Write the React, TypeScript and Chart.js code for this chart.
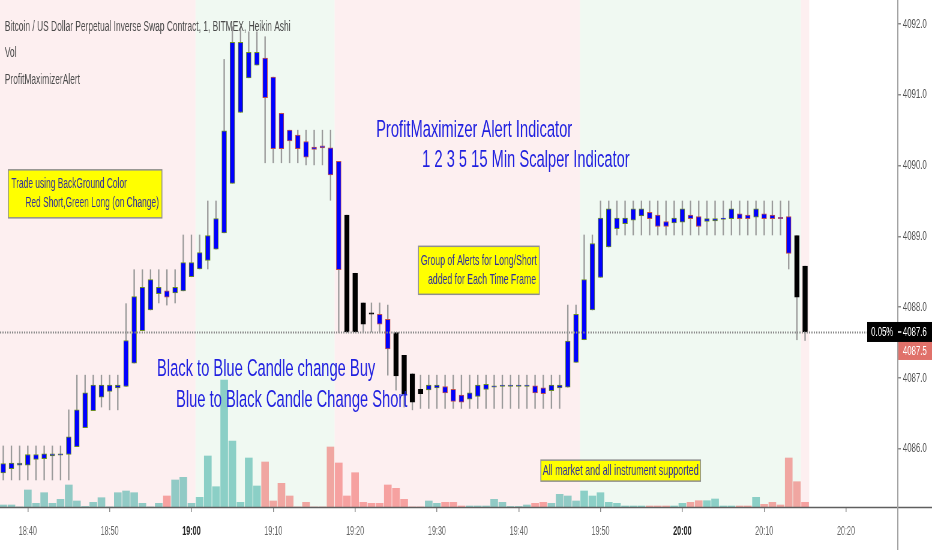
import React, { useEffect, useRef } from 'react';
import { Chart, registerables } from 'chart.js';

Chart.register(...registerables);

// ---------------- data ----------------
const SESSION_ORIGIN = '18:40';
const FIRST_BAR = '18:37';

const opens = [
  4085.66, 4085.72, 4085.77, 4085.77, 4085.85, 4085.86, 4085.90, 4085.91, 4085.92, 4086.03,
  4086.30, 4086.54, 4086.73, 4086.81, 4086.86, 4086.88, 4087.21, 4087.67, 4087.96, 4088.19,
  4088.23, 4088.20, 4088.23, 4088.43, 4088.54, 4088.66, 4088.82, 4089.05, 4089.75, 4090.75,
  4091.24, 4091.42, 4091.52, 4091.25, 4090.74, 4090.50, 4090.43, 4090.34, 4090.26, 4090.28,
  4090.25, 4090.06, 4089.30, 4088.48, 4088.06, 4087.92, 4087.90, 4087.83, 4087.64, 4087.32,
  4087.06, 4086.84, 4086.83, 4086.86, 4086.88, 4086.84, 4086.76, 4086.70, 4086.74, 4086.84,
  4086.87, 4086.88, 4086.88, 4086.88, 4086.88, 4086.89, 4086.86, 4086.82, 4086.86, 4086.87,
  4087.22, 4087.54, 4087.96, 4088.42, 4088.85, 4089.11, 4089.18, 4089.23, 4089.29, 4089.34,
  4089.30, 4089.21, 4089.19, 4089.20, 4089.30, 4089.28, 4089.21, 4089.22, 4089.24, 4089.25,
  4089.32, 4089.30, 4089.27, 4089.32, 4089.30, 4089.27, 4089.28, 4089.01, 4088.58,
];
const closes = [
  4085.79, 4085.80, 4085.80, 4085.92, 4085.92, 4085.93, 4085.93, 4085.93, 4086.17, 4086.55,
  4086.79, 4086.90, 4086.90, 4086.90, 4086.90, 4087.53, 4088.15, 4088.28, 4088.39, 4088.28,
  4088.14, 4088.28, 4088.63, 4088.63, 4088.77, 4089.01, 4089.25, 4090.49, 4091.74, 4091.74,
  4091.60, 4091.60, 4090.96, 4090.24, 4090.24, 4090.35, 4090.24, 4090.12, 4090.23, 4090.25,
  4089.87, 4088.53, 4087.65, 4087.65, 4087.76, 4087.90, 4087.76, 4087.41, 4087.03, 4086.78,
  4086.66, 4086.78, 4086.90, 4086.90, 4086.79, 4086.67, 4086.66, 4086.79, 4086.90, 4086.91,
  4086.89, 4086.90, 4086.90, 4086.90, 4086.90, 4086.79, 4086.78, 4086.90, 4086.90, 4087.52,
  4087.90, 4088.39, 4088.90, 4089.26, 4089.39, 4089.26, 4089.26, 4089.39, 4089.39, 4089.25,
  4089.14, 4089.14, 4089.26, 4089.39, 4089.25, 4089.14, 4089.25, 4089.25, 4089.26, 4089.39,
  4089.25, 4089.25, 4089.39, 4089.25, 4089.25, 4089.25, 4088.76, 4088.14, 4087.65,
];
const highs = [
  4086.04, 4086.04, 4086.04, 4086.04, 4086.04, 4086.04, 4086.04, 4086.04, 4086.55, 4087.04,
  4087.04, 4087.04, 4087.04, 4087.04, 4087.04, 4088.05, 4088.53, 4088.53, 4088.53, 4088.53,
  4088.53, 4088.53, 4089.02, 4089.02, 4089.02, 4089.50, 4089.50, 4091.50, 4091.96, 4091.94,
  4091.89, 4091.89, 4091.82, 4091.25, 4090.74, 4090.50, 4090.50, 4090.50, 4090.50, 4090.50,
  4090.50, 4090.06, 4089.30, 4088.48, 4088.06, 4088.06, 4088.06, 4088.03, 4087.64, 4087.32,
  4087.06, 4087.04, 4087.04, 4087.04, 4087.04, 4087.04, 4087.04, 4087.04, 4087.04, 4087.04,
  4087.04, 4087.04, 4087.04, 4087.04, 4087.04, 4087.04, 4087.04, 4087.04, 4087.04, 4088.03,
  4088.03, 4089.02, 4089.02, 4089.50, 4089.50, 4089.50, 4089.50, 4089.50, 4089.50, 4089.50,
  4089.50, 4089.50, 4089.50, 4089.50, 4089.50, 4089.50, 4089.50, 4089.50, 4089.50, 4089.50,
  4089.50, 4089.50, 4089.50, 4089.50, 4089.50, 4089.50, 4089.50, 4089.01, 4088.58,
];
const lows = [
  4085.56, 4085.56, 4085.56, 4085.56, 4085.56, 4085.56, 4085.56, 4085.56, 4085.56, 4086.03,
  4086.30, 4086.54, 4086.59, 4086.55, 4086.55, 4086.88, 4087.21, 4087.67, 4087.96, 4088.06,
  4088.03, 4088.06, 4088.23, 4088.43, 4088.54, 4088.54, 4088.82, 4089.05, 4089.75, 4090.75,
  4091.24, 4091.42, 4090.04, 4090.04, 4090.04, 4090.04, 4090.04, 4090.01, 4090.01, 4090.01,
  4089.51, 4087.64, 4087.64, 4087.65, 4087.65, 4087.65, 4087.65, 4087.04, 4086.83, 4086.59,
  4086.55, 4086.57, 4086.57, 4086.57, 4086.57, 4086.57, 4086.57, 4086.57, 4086.57, 4086.57,
  4086.57, 4086.57, 4086.57, 4086.57, 4086.57, 4086.57, 4086.57, 4086.57, 4086.57, 4086.87,
  4087.22, 4087.54, 4087.96, 4088.42, 4088.85, 4089.02, 4089.02, 4089.02, 4089.02, 4089.02,
  4089.02, 4089.02, 4089.02, 4089.02, 4089.02, 4089.02, 4089.02, 4089.02, 4089.02, 4089.02,
  4089.02, 4089.02, 4089.02, 4089.02, 4089.02, 4089.02, 4088.54, 4087.54, 4087.53,
];
const volumes = [
  20, 20, 0, 170, 37, 143, 37, 77, 220, 60,
  5, 47, 93, 0, 143, 160, 143, 37, 0, 37,
  110, 270, 297, 37, 97, 510, 203, 1270, 660, 47,
  490, 210, 450, 60, 237, 110, 0, 47, 0, 0,
  600, 440, 110, 343, 47, 37, 37, 220, 187, 77,
  0, 0, 60, 37, 47, 47, 10, 10, 10, 10,
  77, 47, 5, 5, 20, 37, 47, 37, 127, 110,
  60, 160, 110, 143, 47, 37, 10, 10, 10, 10,
  10, 10, 10, 37, 47, 63, 63, 80, 10, 10,
  10, 10, 97, 27, 47, 20, 490, 253, 47,
];
// bars painted black by the ProfitMaximizer signal (all others blue)
const blackBars = ['19:19', '19:20', '19:21', '19:22', '19:25', '19:26', '19:27', '19:28', '20:14', '20:15'];
// background colour zones (short = red, long = green)
const zones = [
  { from: '18:37', to: '19:00', side: 'short' },
  { from: '19:01', to: '19:17', side: 'long' },
  { from: '19:18', to: '19:47', side: 'short' },
  { from: '19:48', to: '20:14', side: 'long' },
  { from: '20:15', to: '20:15', side: 'short' },
];
const timeTicks = ['18:40', '18:50', '19:00', '19:10', '19:20', '19:30', '19:40', '19:50', '20:00', '20:10', '20:20'];
const boldTimes = ['19:00', '20:00'];
const priceTicks = [4086, 4087, 4088, 4089, 4090, 4091, 4092];
const LAST_PRICE = 4087.65;
const LAST_LABEL = '4087.6';
const CHANGE_LABEL = '0.05%';
const ALERT_PRICE = 4087.5;
const ALERT_LABEL = '4087.5';
const headerLines = [
  'Bitcoin / US Dollar Perpetual Inverse Swap Contract, 1, BITMEX, Heikin Ashi',
  'Vol',
  'ProfitMaximizerAlert',
];
const bigNotes = [
  { text: 'ProfitMaximizer Alert Indicator', at: 42.57, price: 4090.5 },
  { text: '1 2 3 5 15 Min Scalper Indicator', at: 48.19, price: 4090.08 },
  { text: 'Black to Blue Candle change Buy', at: 15.79, price: 4087.13 },
  { text: 'Blue to Black Candle Change Short', at: 18.12, price: 4086.69 },
];
const boxNotes = [
  { lines: ['Trade using BackGround Color', '      Red Short,Green Long (on Change)'], at: -2.38, price: 4089.94, size: 14, lineH: 19, padX: 5, padY: 5 },
  { lines: ['Group of Alerts for Long/Short', '   added for Each Time Frame'], at: 47.74, price: 4088.86, size: 14.5, lineH: 18.5, padX: 4, padY: 5.5 },
  { lines: ['All market and all instrument supported'], at: 62.7, price: 4085.84, size: 15, lineH: 17, padX: 3, padY: 2 },
];

// ---------------- layout / style ----------------
const OUT_W = 932;
const H = 550;
const CW = 1553; // canvas drawn wide, then squeezed horizontally like the reference
const SX = OUT_W / CW;
const AXIS_W = 58;
const PLOT_BOTTOM = 507;
const X_MIN = -3.3985;
const X_MAX = 106.259;
const PRICE_MIN = 4085.178;
const PRICE_MAX = 4092.339;
const VOL_MAX = 5070;
const FONT = "'Liberation Sans', Arial, sans-serif";
const PINK_BG = '#fdeff0';
const GREEN_BG = '#f0f9f2';
const BLUE = '#0000ff';
const BLACK = '#000000';
const UP_BORDER = '#6b8e23';
const DOWN_BORDER = '#c0504d';
const WICK = '#9b9b9b';
const VOL_UP = 'rgba(38,166,154,0.5)';
const VOL_DOWN = 'rgba(239,83,80,0.5)';
const NOTE_BLUE = '#1f1fe0';
const BOX_TEXT = '#30309a';
const ALERT_RED = '#e0716a';

const toMin = (t: string) => {
  const [h, m] = t.split(':').map(Number);
  const [oh, om] = SESSION_ORIGIN.split(':').map(Number);
  return h * 60 + m - (oh * 60 + om);
};
const fmtMin = (v: number) => {
  const [oh, om] = SESSION_ORIGIN.split(':').map(Number);
  const tot = oh * 60 + om + Math.round(v);
  const h = Math.floor(tot / 60);
  const m = tot % 60;
  return `${h}:${m < 10 ? '0' : ''}${m}`;
};

function drawText(ctx: CanvasRenderingContext2D, s: string, x: number, y: number, size: number, color: string, align: CanvasTextAlign = 'left', weight = 'normal') {
  ctx.font = `${weight} ${size}px ${FONT}`;
  ctx.fillStyle = color;
  ctx.textAlign = align;
  ctx.textBaseline = 'middle';
  ctx.fillText(s, x, y);
}

const overlay = {
  id: 'overlay',
  beforeDraw(chart: any) {
    const { ctx, chartArea: a, scales } = chart;
    const x = scales.x;
    ctx.save();
    ctx.fillStyle = '#ffffff';
    ctx.fillRect(0, 0, chart.width, chart.height);
    zones.forEach((z) => {
      const x0 = Math.max(a.left, x.getPixelForValue(toMin(z.from) - 0.5));
      const x1 = Math.min(a.right, x.getPixelForValue(toMin(z.to) + 0.5));
      ctx.fillStyle = z.side === 'long' ? GREEN_BG : PINK_BG;
      ctx.fillRect(x0, a.top, x1 - x0, a.bottom - a.top);
    });
    ctx.restore();
  },
  afterDatasetsDraw(chart: any) {
    const { ctx, chartArea: a, scales } = chart;
    const x = scales.x;
    const y = scales.y;
    ctx.save();
    const ly = Math.round(y.getPixelForValue(LAST_PRICE)) + 0.5;
    ctx.strokeStyle = '#8c8c8c';
    ctx.lineWidth = 2;
    ctx.setLineDash([2, 2]);
    ctx.beginPath();
    ctx.moveTo(a.left, ly);
    ctx.lineTo(a.right, ly);
    ctx.stroke();
    ctx.setLineDash([]);

    headerLines.forEach((s, k) => drawText(ctx, s, a.left + 8, a.top + 27 + k * 26.5, 14, '#4a4a4a'));

    bigNotes.forEach((n) => drawText(ctx, n.text, x.getPixelForValue(n.at), y.getPixelForValue(n.price), 24.5, NOTE_BLUE));

    boxNotes.forEach((b) => {
      ctx.font = `normal ${b.size}px ${FONT}`;
      const w = Math.max(...b.lines.map((l) => ctx.measureText(l).width)) + 2 * b.padX;
      const h = b.lines.length * b.lineH + 2 * b.padY;
      const bx = x.getPixelForValue(b.at);
      const by = y.getPixelForValue(b.price);
      ctx.fillStyle = '#ffff00';
      ctx.fillRect(bx, by, w, h);
      ctx.strokeStyle = '#8f8f8f';
      ctx.lineWidth = 1.5;
      ctx.strokeRect(bx, by, w, h);
      b.lines.forEach((l, k) => drawText(ctx, l, bx + b.padX, by + b.padY + b.lineH * (k + 0.5), b.size, BOX_TEXT));
    });
    ctx.restore();
  },
  afterDraw(chart: any) {
    const { ctx, chartArea: a, scales } = chart;
    const y = scales.y;
    ctx.save();
    ctx.strokeStyle = '#5f5f5f';
    ctx.lineWidth = 1.5;
    ctx.beginPath();
    ctx.moveTo(0, a.bottom + 0.5);
    ctx.lineTo(chart.width, a.bottom + 0.5);
    ctx.stroke();
    ctx.strokeStyle = '#a3a3a3';
    ctx.lineWidth = 2;
    ctx.beginPath();
    ctx.moveTo(a.right + 1, 0);
    ctx.lineTo(a.right + 1, chart.height);
    ctx.stroke();

    const ly = y.getPixelForValue(LAST_PRICE);
    const bh = 20;
    ctx.fillStyle = '#000';
    ctx.fillRect(a.right, ly - bh / 2, chart.width - a.right, bh);
    ctx.fillRect(a.right - 50, ly - bh / 2, 50, bh);
    ctx.strokeStyle = '#fff';
    ctx.lineWidth = 1.5;
    ctx.beginPath();
    ctx.moveTo(a.right + 1, ly);
    ctx.lineTo(a.right + 7, ly);
    ctx.stroke();
    drawText(ctx, LAST_LABEL, a.right + 9.5, ly, 13, '#fff');
    drawText(ctx, CHANGE_LABEL, a.right - 25, ly, 13, '#fff', 'center');

    const ay = Math.max(y.getPixelForValue(ALERT_PRICE), ly + bh / 2 + 9);
    ctx.fillStyle = ALERT_RED;
    ctx.fillRect(a.right + 2, ay - 9, chart.width - a.right - 2, 18);
    drawText(ctx, ALERT_LABEL, a.right + 9.5, ay, 13, '#fff');
    ctx.restore();
  },
};

export default function App() {
  const ref = useRef<HTMLCanvasElement>(null);

  useEffect(() => {
    const canvas = ref.current;
    if (!canvas) return;
    const base = toMin(FIRST_BAR);
    const minutes = opens.map((_, k) => base + k);
    const isUp = (k: number) => closes[k] >= opens[k];
    const blackSet = new Set(blackBars.map(toMin));
    const boldSet = new Set(boldTimes.map(toMin));

    const chart = new Chart(canvas, {
      type: 'bar',
      data: {
        datasets: [
          {
            label: 'Vol',
            data: volumes.map((v, k) => ({ x: minutes[k], y: v })),
            yAxisID: 'yv',
            backgroundColor: volumes.map((_, k) => (isUp(k) ? VOL_UP : VOL_DOWN)),
            borderWidth: 0,
            barThickness: 12,
            grouped: false,
            order: 3,
          } as any,
          {
            label: 'Wick',
            data: minutes.map((m, k) => ({ x: m, y: [lows[k], highs[k]] })),
            yAxisID: 'y',
            backgroundColor: WICK,
            borderWidth: 0,
            barThickness: 1.7,
            grouped: false,
            order: 2,
          } as any,
          {
            label: 'Heikin Ashi',
            data: minutes.map((m, k) => ({ x: m, y: [opens[k], closes[k]] })),
            yAxisID: 'y',
            backgroundColor: minutes.map((m) => (blackSet.has(m) ? BLACK : BLUE)),
            borderColor: minutes.map((m, k) => (blackSet.has(m) ? BLACK : isUp(k) ? UP_BORDER : DOWN_BORDER)),
            borderWidth: 1,
            borderSkipped: false,
            barThickness: 8,
            grouped: false,
            order: 1,
          } as any,
        ],
      },
      options: {
        responsive: false,
        maintainAspectRatio: false,
        animation: false,
        devicePixelRatio: 1,
        layout: { padding: 0 },
        plugins: { legend: { display: false }, tooltip: { enabled: false }, title: { display: false } },
        scales: {
          x: {
            type: 'linear',
            min: X_MIN,
            max: X_MAX,
            offset: false,
            bounds: 'data',
            grid: { display: true, drawOnChartArea: false, drawTicks: true, tickLength: 5, color: '#8a8a8a', lineWidth: 1.5, offset: false },
            border: { display: false },
            ticks: {
              autoSkip: false,
              maxRotation: 0,
              minRotation: 0,
              padding: 12,
              color: (c: any) => (c.tick && boldSet.has(c.tick.value) ? '#222' : '#666'),
              font: (c: any) => ({ family: FONT, size: 12, weight: c.tick && boldSet.has(c.tick.value) ? 'bold' : 'normal' }),
              callback: (v: any) => fmtMin(Number(v)),
            },
            afterBuildTicks: (s: any) => {
              s.ticks = timeTicks.map((t) => ({ value: toMin(t) }));
            },
            afterFit: (s: any) => {
              s.height = H - PLOT_BOTTOM;
              s.paddingLeft = 0;
              s.paddingRight = 0;
              s.paddingTop = 0;
              s.paddingBottom = 0;
            },
          } as any,
          y: {
            type: 'linear',
            position: 'right',
            min: PRICE_MIN,
            max: PRICE_MAX,
            bounds: 'data',
            grid: { drawOnChartArea: false, drawTicks: true, tickLength: 6, color: '#8a8a8a', lineWidth: 1.5 },
            border: { display: false },
            ticks: {
              padding: 3.5,
              color: '#555',
              font: { family: FONT, size: 13 },
              callback: (v: any) => Number(v).toFixed(1),
            },
            afterBuildTicks: (s: any) => {
              s.ticks = priceTicks.map((v) => ({ value: v }));
            },
            afterFit: (s: any) => {
              s.width = AXIS_W;
              s.paddingTop = 0;
              s.paddingBottom = 0;
              s.paddingLeft = 0;
              s.paddingRight = 0;
            },
          } as any,
          yv: { type: 'linear', display: false, min: 0, max: VOL_MAX } as any,
        },
      },
      plugins: [overlay as any],
    });
    return () => chart.destroy();
  }, []);

  return (
    <div style={{ position: 'fixed', left: 0, top: 0, width: OUT_W, height: H, overflow: 'hidden', background: '#fff' }}>
      <div style={{ width: CW, height: H, transform: `scaleX(${SX})`, transformOrigin: '0 0' }}>
        <canvas ref={ref} width={CW} height={H} style={{ display: 'block', width: CW, height: H }} />
      </div>
    </div>
  );
}
